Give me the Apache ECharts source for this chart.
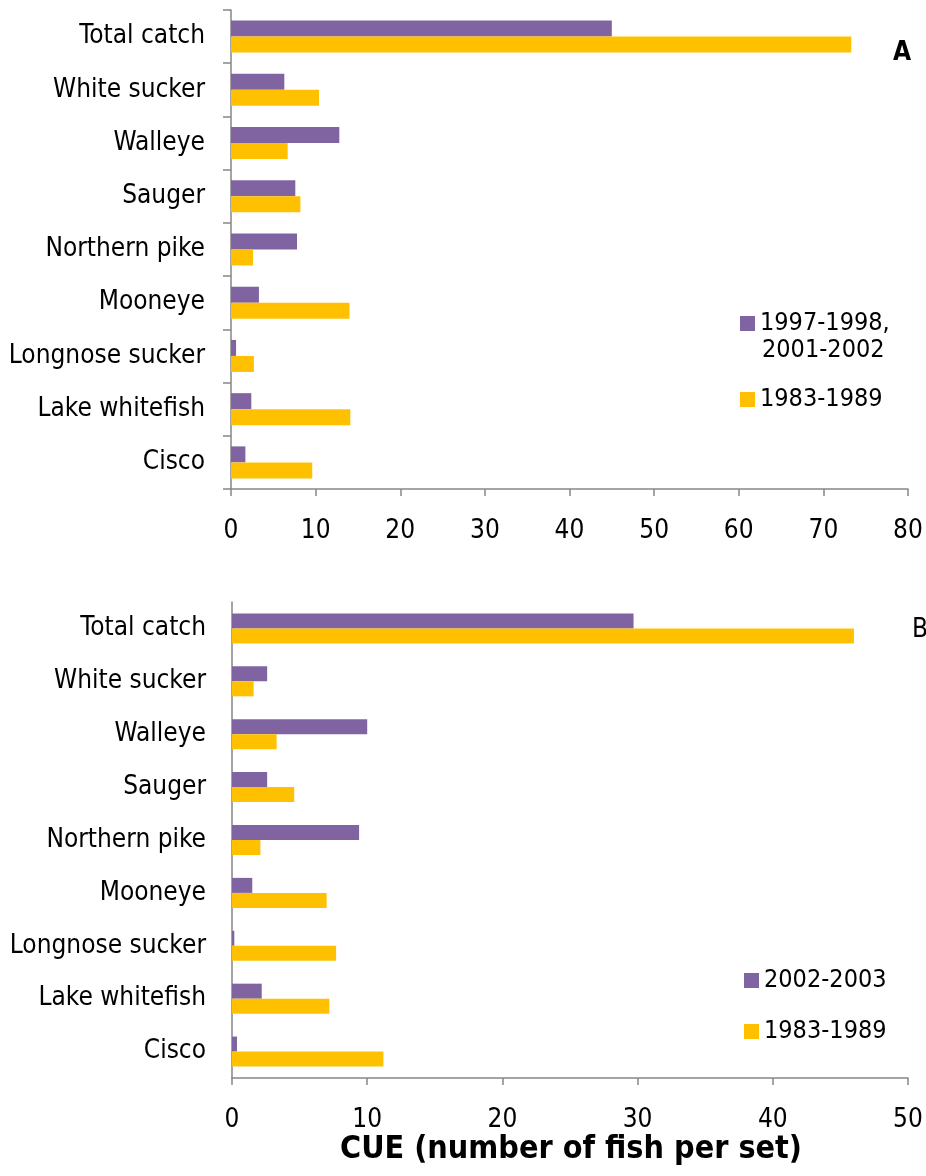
<!DOCTYPE html>
<html>
<head>
<meta charset="utf-8">
<script src="https://cdn.jsdelivr.net/npm/echarts@6/dist/echarts.min.js"></script>
<style>
html,body{margin:0;padding:0;background:#fff;}
#c{width:926px;height:1176px;}
</style>
</head>
<body>
<div id="c"></div>
<script>
const categories = ['Total catch','White sucker','Walleye','Sauger','Northern pike','Mooneye','Longnose sucker','Lake whitefish','Cisco'];
const seriesNamesA = ['1997-1998, 2001-2002', '1983-1989'];
const seriesNamesB = ['2002-2003', '1983-1989'];
const panelA_recent = [45.0, 6.3, 12.8, 7.6, 7.8, 3.3, 0.6, 2.4, 1.7];
const panelA_past   = [73.3, 10.4, 6.7, 8.2, 2.6, 14.0, 2.7, 14.1, 9.6];
const panelB_recent = [29.7, 2.6, 10.0, 2.6, 9.4, 1.5, 0.17, 2.2, 0.37];
const panelB_past   = [46.0, 1.6, 3.3, 4.6, 2.1, 7.0, 7.7, 7.2, 11.2];
const xRangeA = [0, 80, 10];
const xRangeB = [0, 50, 10];
const panelLabels = ['A', 'B'];
const axisTitle = 'CUE (number of fish per set)';

const PURPLE = '#8064A2', YELLOW = '#FFC000', AXIS = '#868686';
const LABEL_FONT = "'DejaVu Sans Condensed', 'DejaVu Sans', sans-serif";
const TICK_FONT = "'DejaVu Sans Condensed', 'Liberation Sans Narrow', sans-serif";

function xAxisCfg(gi, r) {
  return {
    type: 'value', gridIndex: gi, min: r[0], max: r[1], interval: r[2],
    axisLine: {show: true, lineStyle: {color: AXIS, width: 1.5}},
    axisTick: {show: true, length: 7, lineStyle: {color: AXIS, width: 1.5}},
    splitLine: {show: false},
    axisLabel: {color: '#000', fontFamily: TICK_FONT, fontSize: 26, margin: 29}
  };
}
function yAxisCfg(gi, ticks) {
  return {
    type: 'category', gridIndex: gi, data: categories, inverse: true,
    axisLine: {show: true, lineStyle: {color: AXIS, width: 1.5}},
    axisTick: {show: ticks, length: 8, lineStyle: {color: AXIS, width: 1.5}},
    axisLabel: {color: '#000', fontFamily: LABEL_FONT, fontSize: 26, margin: 26}
  };
}
function barSeries(name, data, color, gi, w) {
  return {
    type: 'bar', name: name, data: data, xAxisIndex: gi, yAxisIndex: gi,
    barWidth: w, barGap: '0%',
    itemStyle: {color: color}, silent: true, animation: false
  };
}
function legendCfg(name, left, top) {
  return {
    data: [{name: name, icon: 'rect'}], left: left, top: top, padding: 0,
    itemWidth: 15, itemHeight: 15, selectedMode: false,
    textStyle: {color: '#000', fontFamily: LABEL_FONT, fontSize: 25}
  };
}

const chart = echarts.init(document.getElementById('c'), null, {renderer: 'canvas'});
chart.setOption({
  backgroundColor: '#fff',
  animation: false,
  grid: [
    {left: 231, top: 10, width: 677, height: 479},
    {left: 232, top: 602, width: 676, height: 476}
  ],
  xAxis: [xAxisCfg(0, xRangeA), xAxisCfg(1, xRangeB)],
  yAxis: [yAxisCfg(0, true), yAxisCfg(1, false)],
  legend: [
    Object.assign(legendCfg(seriesNamesA[0], 740, 311), {formatter: function(){ return '1997-1998,'; }}),
    legendCfg(seriesNamesA[1] + ' ', 740, 387),
    legendCfg(seriesNamesB[0], 744, 968),
    legendCfg(seriesNamesB[1] + '  ', 744, 1019)
  ],
  series: [
    barSeries(seriesNamesA[0], panelA_recent, PURPLE, 0, 16),
    barSeries(seriesNamesA[1] + ' ', panelA_past, YELLOW, 0, 16),
    barSeries(seriesNamesB[0], panelB_recent, PURPLE, 1, 15),
    barSeries(seriesNamesB[1] + '  ', panelB_past, YELLOW, 1, 15)
  ],
  graphic: [
    {type: 'text', left: 762, top: 338, style: {text: '2001-2002', fill: '#000', font: "25px " + LABEL_FONT}},
    {type: 'text', left: 893, top: 40, style: {text: panelLabels[0], fill: '#000', font: "bold 26px " + LABEL_FONT}},
    {type: 'text', left: 912, top: 617, style: {text: panelLabels[1], fill: '#000', font: "26px " + LABEL_FONT}},
    {type: 'text', left: 340, top: 1134, style: {text: axisTitle, fill: '#000', font: "bold 32px " + LABEL_FONT}}
  ]
});
</script>
</body>
</html>
